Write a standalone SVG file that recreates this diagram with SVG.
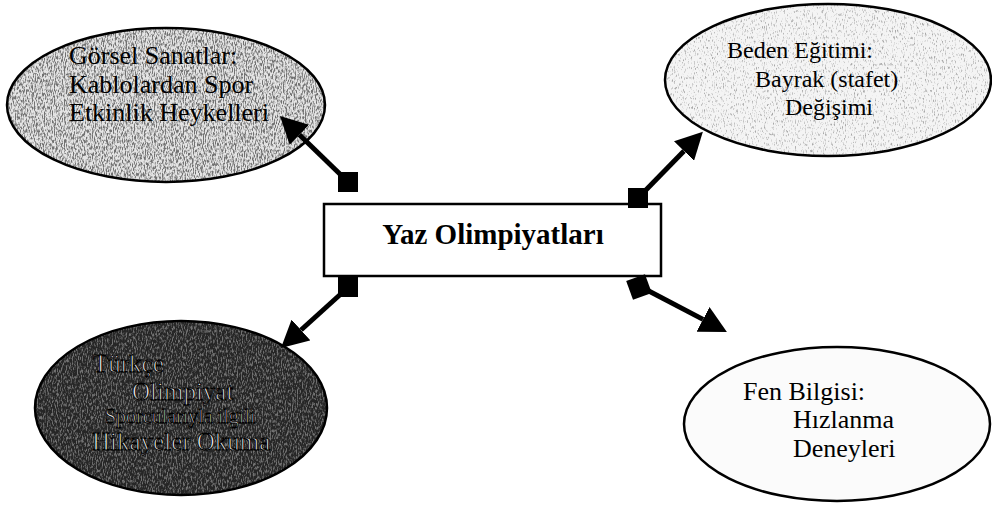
<svg xmlns="http://www.w3.org/2000/svg" width="992" height="510" viewBox="0 0 992 510">
<style>
.ell{stroke:#000;stroke-width:2.5}
.tex{stroke:none}
.conn{stroke:#000;stroke-width:5;fill:none}
.sq{fill:#000}
.lt{fill:#e8e8e8;stroke:#000;stroke-width:0.9}
</style>
<defs>
<marker id="ah" markerUnits="userSpaceOnUse" viewBox="0 0 27 28" refX="0" refY="14" markerWidth="27" markerHeight="28" orient="auto">
<path d="M0,0 L27,14 L0,28 z" fill="#000"/>
</marker>
<filter id="speckDark" x="0" y="0" width="100%" height="100%">
<feTurbulence type="fractalNoise" baseFrequency="0.9 0.3" numOctaves="2" seed="4" result="n"/>
<feColorMatrix in="n" type="matrix" values="0 0 0 0 0  0 0 0 0 0  0 0 0 0 0  -4 0 0 0 2.3" result="d"/>
<feComposite in="d" in2="SourceAlpha" operator="in"/>
</filter>
<filter id="speckLight" x="0" y="0" width="100%" height="100%">
<feTurbulence type="fractalNoise" baseFrequency="0.9 0.3" numOctaves="2" seed="7" result="n"/>
<feColorMatrix in="n" type="matrix" values="0 0 0 0 0  0 0 0 0 0  0 0 0 0 0  -4 0 0 0 1.8" result="d"/>
<feComposite in="d" in2="SourceAlpha" operator="in"/>
</filter>
<filter id="speckWhite" x="0" y="0" width="100%" height="100%">
<feTurbulence type="fractalNoise" baseFrequency="0.8 0.3" numOctaves="2" seed="9" result="n"/>
<feColorMatrix in="n" type="matrix" values="0 0 0 0 1  0 0 0 0 1  0 0 0 0 1  -4 0 0 0 2.2" result="d"/>
<feComposite in="d" in2="SourceAlpha" operator="in"/>
</filter>
</defs>
<rect width="992" height="510" fill="#fff"/>
<g id="node-gorsel" font-family="Liberation Serif, Times New Roman, serif" font-size="26">
<ellipse cx="166" cy="105" rx="159" ry="77" fill="#e4e4e4"/>
<ellipse class="tex" cx="166" cy="105" rx="159" ry="77" fill="#000" filter="url(#speckDark)" opacity="0.5"/>
<ellipse class="ell" cx="166" cy="105" rx="159" ry="77" fill="none"/>
<text x="69" y="64">Görsel Sanatlar:</text>
<text x="69" y="93">Kablolardan Spor</text>
<text x="69" y="121">Etkinlik Heykelleri</text>
</g>
<g id="node-beden" font-family="Liberation Serif, Times New Roman, serif" font-size="24">
<ellipse cx="828" cy="80" rx="163" ry="76" fill="#f4f4f4"/>
<ellipse class="tex" cx="828" cy="80" rx="163" ry="76" fill="#000" filter="url(#speckLight)" opacity="0.3"/>
<ellipse class="ell" cx="828" cy="80" rx="163" ry="76" fill="none"/>
<text x="727" y="58">Beden Eğitimi:</text>
<text x="755" y="87">Bayrak (stafet)</text>
<text x="785" y="115">Değişimi</text>
</g>
<g id="node-turkce" font-family="Liberation Serif, Times New Roman, serif" font-size="25">
<ellipse cx="181" cy="408" rx="146" ry="87" fill="#262626"/>
<ellipse class="tex" cx="181" cy="408" rx="146" ry="87" fill="#fff" filter="url(#speckWhite)" opacity="0.35"/>
<ellipse class="ell" cx="181" cy="408" rx="146" ry="87" fill="none"/>
<text class="lt" x="93" y="372">Türkçe</text>
<text class="lt" x="132" y="400">Olimpiyat</text>
<text class="lt" x="105" y="423" font-size="20">Sporcularıyla ilgili</text>
<text class="lt" x="92" y="450">Hikayeler Okuma</text>
</g>
<g id="node-fen" font-family="Liberation Serif, Times New Roman, serif" font-size="26">
<ellipse class="ell" cx="837" cy="424" rx="153" ry="77" fill="#fbfbfb"/>
<text x="743" y="400">Fen Bilgisi:</text>
<text x="793" y="428">Hızlanma</text>
<text x="793" y="457">Deneyleri</text>
</g>
<g id="node-center" font-family="Liberation Serif, Times New Roman, serif">
<rect x="324" y="204" width="337" height="72" fill="#fff" stroke="#000" stroke-width="2.5"/>
<text x="493" y="244" text-anchor="middle" font-size="29" font-weight="bold">Yaz Olimpiyatları</text>
</g>
<g id="connectors">
<line class="conn" x1="343" y1="177" x2="299.4" y2="134.8" marker-end="url(#ah)"/>
<line class="conn" x1="643" y1="193" x2="684" y2="151" marker-end="url(#ah)"/>
<line class="conn" x1="343" y1="292" x2="301" y2="330" marker-end="url(#ah)"/>
<line class="conn" x1="645" y1="289" x2="703" y2="319.4" marker-end="url(#ah)"/>
<rect class="sq" x="338" y="172" width="20" height="20"/>
<rect class="sq" x="628" y="188" width="20" height="20"/>
<rect class="sq" x="338" y="276" width="20" height="21"/>
<rect class="sq" x="629" y="277" width="20" height="20" transform="rotate(-20 639 287)"/>
</g>
</svg>
